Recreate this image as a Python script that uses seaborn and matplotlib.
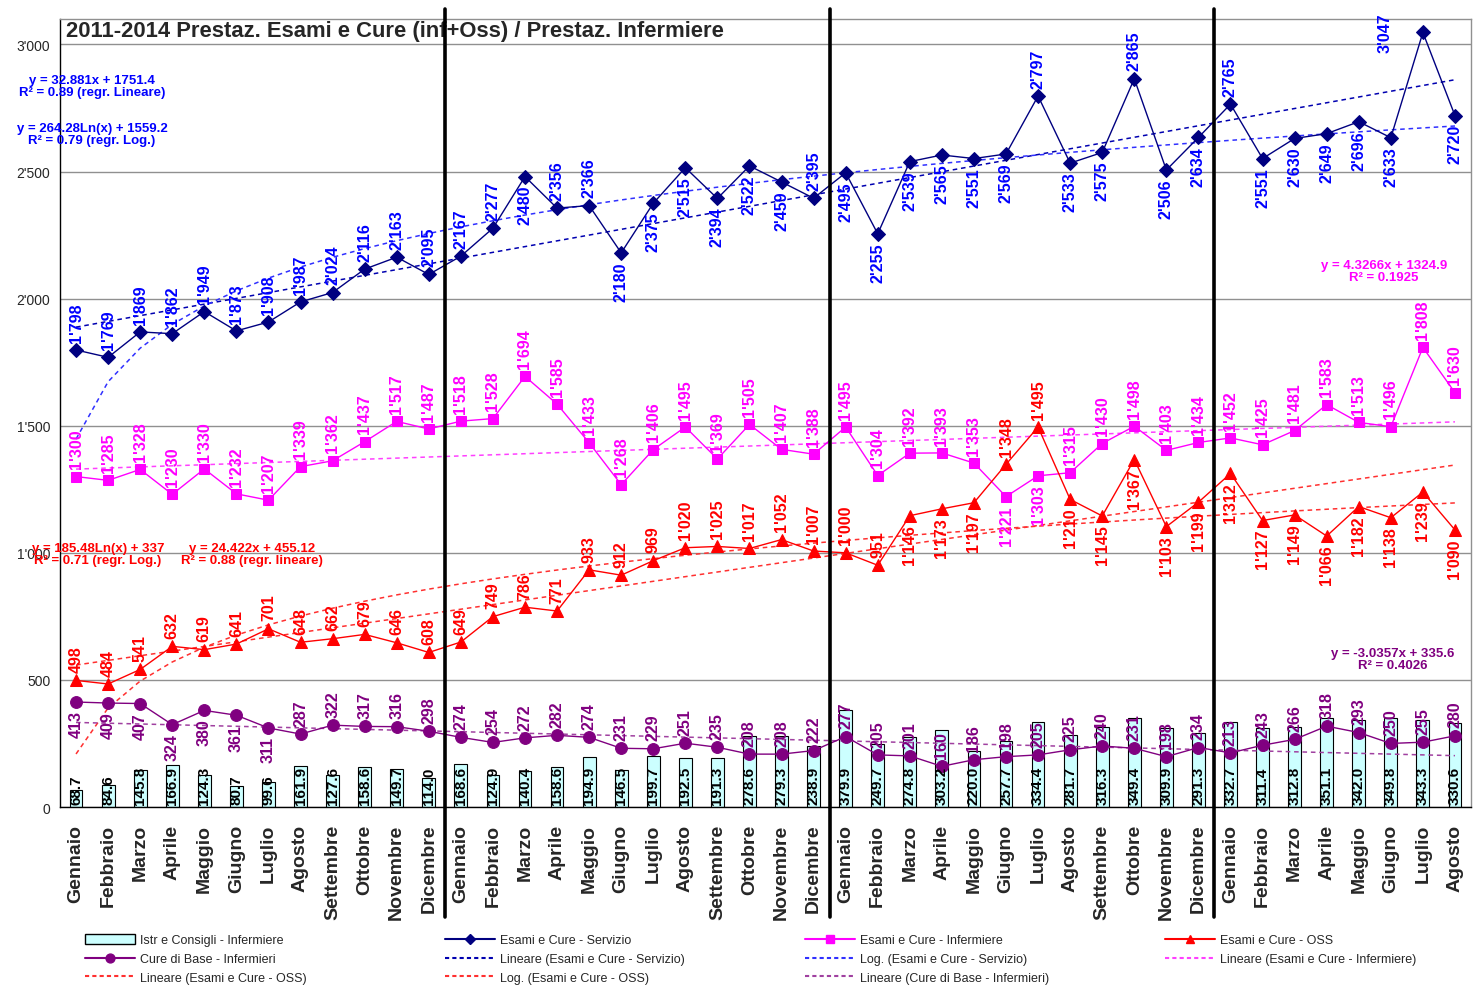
import numpy as np
import matplotlib
matplotlib.use("Agg")
import matplotlib.pyplot as plt
import seaborn as sns
from matplotlib.lines import Line2D
from matplotlib.patches import Patch
from matplotlib.ticker import FuncFormatter, FixedLocator

# mesi gen 2011 - ago 2014
mesi = ["Gennaio", "Febbraio", "Marzo", "Aprile", "Maggio", "Giugno", "Luglio",
        "Agosto", "Settembre", "Ottobre", "Novembre", "Dicembre"]
etichette = mesi * 3 + mesi[:8]

servizio = [1798, 1769, 1869, 1862, 1949, 1873, 1908, 1987, 2024, 2116, 2163, 2095,
            2167, 2277, 2480, 2356, 2366, 2180, 2375, 2515, 2394, 2522, 2459, 2395,
            2495, 2255, 2539, 2565, 2551, 2569, 2797, 2533, 2575, 2865, 2506, 2634,
            2765, 2551, 2630, 2649, 2696, 2633, 3047, 2720]
infermiere = [1300, 1285, 1328, 1230, 1330, 1232, 1207, 1339, 1362, 1437, 1517, 1487,
              1518, 1528, 1694, 1585, 1433, 1268, 1406, 1495, 1369, 1505, 1407, 1388,
              1495, 1304, 1392, 1393, 1353, 1221, 1303, 1315, 1430, 1498, 1403, 1434,
              1452, 1425, 1481, 1583, 1513, 1496, 1808, 1630]
oss = [498, 484, 541, 632, 619, 641, 701, 648, 662, 679, 646, 608,
       649, 749, 786, 771, 933, 912, 969, 1020, 1025, 1017, 1052, 1007,
       1000, 951, 1146, 1173, 1197, 1348, 1495, 1210, 1145, 1367, 1103, 1199,
       1312, 1127, 1149, 1066, 1182, 1138, 1239, 1090]
cure_base = [413, 409, 407, 324, 380, 361, 311, 287, 322, 317, 316, 298,
             274, 254, 272, 282, 274, 231, 229, 251, 235, 208, 208, 222,
             277, 205, 201, 160, 186, 198, 205, 225, 240, 231, 198, 234,
             213, 243, 266, 318, 293, 250, 255, 280]
istr_consigli = [68.7, 84.6, 145.8, 166.9, 124.3, 80.7, 99.6, 161.9, 127.6, 158.6, 149.7, 114.0,
                 168.6, 124.9, 140.4, 158.6, 194.9, 146.5, 199.7, 192.5, 191.3, 278.6, 279.3, 238.9,
                 379.9, 249.7, 274.8, 303.2, 220.0, 257.7, 334.4, 281.7, 316.3, 349.4, 309.9, 291.3,
                 332.7, 311.4, 312.8, 351.1, 342.0, 349.8, 343.3, 330.6]

# posizione etichette: a = sopra, b = sotto, l = a sinistra
lato_servizio = "aaaaaaaaaaaa" + "aabaabbbbbba" + "bbbbbbabbabb" + "abbbbblb"
lato_infermiere = "a" * 24 + "aaaaabbaaaaa" + "a" * 8
lato_oss = "a" * 24 + "aabbbaabbbbb" + "b" * 8
lato_cure = "bbbbbbbaaaaa" + "a" * 32


def fmt(v):
    return f"{v:,.0f}".replace(",", "'")


def px(x, y):
    return x / 1482, 1 - y / 987


sns.set_style("white")
plt.rcParams['font.family'] = ['Liberation Sans', 'DejaVu Sans']

fig = plt.figure(figsize=(14.82, 9.87), dpi=100)
ax = fig.add_axes([60 / 1482, 1 - 808 / 987, 1411 / 1482, 788 / 987])

pos = np.arange(len(etichette))
n = pos + 1

# barre
sns.barplot(x=pos, y=istr_consigli, native_scale=True, color="#CCFFFF", saturation=1,
            edgecolor="black", linewidth=0.8, width=0.4, ax=ax, zorder=2)
for i, v in enumerate(istr_consigli):
    ax.text(i, 10, f"{v:.1f}", rotation=90, ha="center", va="bottom",
            fontsize=11, fontweight="bold", color="black", zorder=6)

# linee di tendenza
def lin(y):
    return np.polyval(np.polyfit(n, y, 1), n)


def logfit(y):
    return np.polyval(np.polyfit(np.log(n), y, 1), np.log(n))


dash = (0, (3, 2.5))
trend = [
    (lin(servizio), "#0000B0", "Lineare (Esami e Cure - Servizio)"),
    (logfit(servizio), "#3030FF", "Log. (Esami e Cure - Servizio)"),
    (lin(infermiere), "#FF40FF", "Lineare (Esami e Cure - Infermiere)"),
    (lin(oss), "#FF3030", "Lineare (Esami e Cure - OSS)"),
    (logfit(oss), "#FF3030", "Log. (Esami e Cure - OSS)"),
    (lin(cure_base), "#A040A0", "Lineare (Cure di Base - Infermieri)"),
]
for y, c, lab in trend:
    ax.plot(pos, y, color=c, lw=1.1, ls=dash, zorder=3)

# serie
serie = [
    (servizio, "#000080", "#0000FF", "D", 7, lato_servizio, "Esami e Cure - Servizio"),
    (infermiere, "#FF00FF", "#FF00FF", "s", 7, lato_infermiere, "Esami e Cure - Infermiere"),
    (oss, "#FF0000", "#FF0000", "^", 8.5, lato_oss, "Esami e Cure - OSS"),
    (cure_base, "#800080", "#800080", "o", 8.5, lato_cure, "Cure di Base - Infermieri"),
]
for vals, c, ct, m, ms, lati, lab in serie:
    sns.lineplot(x=pos, y=vals, color=c, marker=m, markersize=ms, markeredgecolor=c,
                 linewidth=1, ax=ax, zorder=4)
    for i, (v, s) in enumerate(zip(vals, lati)):
        if s == "l":
            off, va = (-27, 0), "center"
        elif s == "a":
            off, va = (0, 6), "bottom"
        else:
            off, va = (0, -6), "top"
        ax.annotate(fmt(v), (i, v), xytext=off, textcoords="offset points",
                    rotation=90, ha="center", va=va,
                    color=ct, fontsize=11.5, fontweight="bold", zorder=6)

# separatori anni
for xs in [11.5, 23.5, 35.5]:
    ax.axvline(xs, ymin=-0.14, ymax=1.013, color="black", lw=2.6, clip_on=False, zorder=7)

ax.set_xlim(-0.5, len(etichette) - 0.5)
ax.set_ylim(0, 3100)
ax.yaxis.set_major_locator(FixedLocator([0, 500, 1000, 1500, 2000, 2500, 3000]))
ax.yaxis.set_major_formatter(FuncFormatter(lambda v, p: fmt(v)))
ax.grid(axis="y", color="#909090", lw=1)
ax.set_axisbelow(True)
ax.set_xticks(pos)
ax.set_xticklabels(etichette, rotation=90, fontsize=14, fontweight="bold")
ax.set_xticks(pos[:-1] + 0.5, minor=True)
ax.tick_params(axis="x", which="major", length=0, pad=12)
ax.tick_params(axis="x", which="minor", length=6, width=1, color="black", direction="out")
ax.tick_params(axis="y", length=5, width=1, color="black", direction="out", labelsize=10, pad=2)
ax.set_xlabel("")
ax.set_ylabel("")
for s in ["left", "bottom"]:
    ax.spines[s].set_color("black")
    ax.spines[s].set_linewidth(1)
for s in ["top", "right"]:
    ax.spines[s].set_color("#909090")
    ax.spines[s].set_linewidth(1)

ax.text(6 / 1411, 0.985, "2011-2014 Prestaz. Esami e Cure (inf+Oss) / Prestaz. Infermiere",
        transform=ax.transAxes, ha="left", va="center", fontsize=15.8, fontweight="bold")

# equazioni
eq = dict(ha="center", va="center", fontsize=9.5, fontweight="bold", linespacing=1.05)
fig.text(*px(92, 87), "y = 32.881x + 1751.4\nR² = 0.89 (regr. Lineare)", color="#0000FF", **eq)
fig.text(*px(92, 135), "y = 264.28Ln(x) + 1559.2\nR² = 0.79 (regr. Log.)", color="#0000FF", **eq)
fig.text(*px(98, 555), "y = 185.48Ln(x) + 337\nR² = 0.71 (regr. Log.)", color="#FF0000", **eq)
fig.text(*px(252, 555), "y = 24.422x + 455.12\nR² = 0.88 (regr. lineare)", color="#FF0000", **eq)
fig.text(*px(1384, 272), "y = 4.3266x + 1324.9\nR² = 0.1925", color="#FF00FF", **eq)
fig.text(*px(1393, 660), "y = -3.0357x + 335.6\nR² = 0.4026", color="#800080", **eq)

# legenda in 4 colonne
h_istr = Patch(facecolor="#CCFFFF", edgecolor="black", label="Istr e Consigli - Infermiere")
h_serie = {lab: Line2D([], [], color=c, marker=m, markersize=ms * 0.75, markeredgecolor=c, lw=1.5, label=lab)
           for vals, c, ct, m, ms, lati, lab in serie}
h_trend = {lab: Line2D([], [], color=c, lw=1.5, ls=(0, (2, 1.5)), label=lab) for y, c, lab in trend}
colonne = [
    [h_istr, h_serie["Cure di Base - Infermieri"], h_trend["Lineare (Esami e Cure - OSS)"]],
    [h_serie["Esami e Cure - Servizio"], h_trend["Lineare (Esami e Cure - Servizio)"], h_trend["Log. (Esami e Cure - OSS)"]],
    [h_serie["Esami e Cure - Infermiere"], h_trend["Log. (Esami e Cure - Servizio)"], h_trend["Lineare (Cure di Base - Infermieri)"]],
    [h_serie["Esami e Cure - OSS"], h_trend["Lineare (Esami e Cure - Infermiere)"]],
]
for xc, hs in zip([85, 445, 805, 1165], colonne):
    fig.legend(handles=hs, loc="upper left", bbox_to_anchor=px(xc, 935), frameon=False,
               fontsize=9, handlelength=4.0, handletextpad=0.4, labelspacing=0.5,
               borderpad=0, borderaxespad=0, handleheight=0.9)

fig.savefig("out.png", dpi=100, facecolor="white")
